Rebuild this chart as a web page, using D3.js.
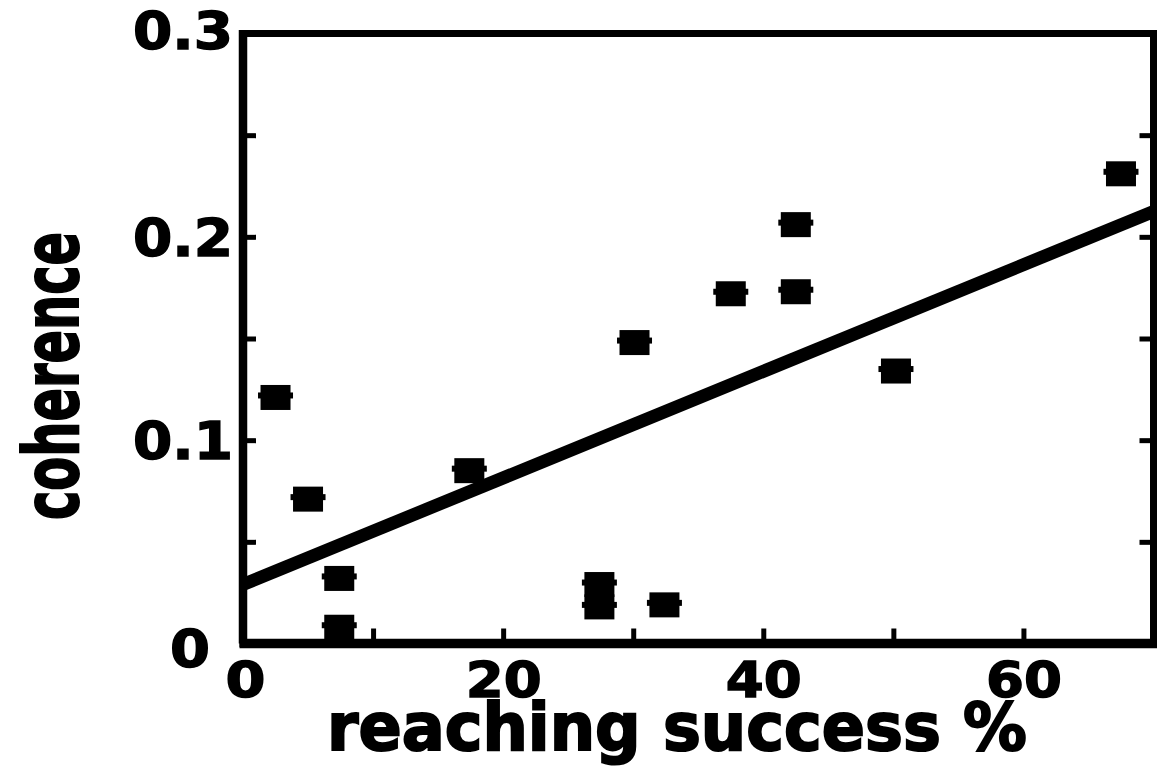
<!DOCTYPE html>
<html>
<head>
<meta charset="utf-8">
<script src="https://cdn.jsdelivr.net/npm/d3@7"></script>
<style>
html,body{margin:0;padding:0;background:#fff;}
svg{display:block;}
text{font-family:"DejaVu Sans",sans-serif;font-weight:bold;fill:#000;}
</style>
</head>
<body>
<svg id="chart" width="1157" height="777"></svg>
<script>
// ---- data ----
const reachX = [2.5, 5.0, 7.4, 7.4, 17.4, 27.4, 27.4, 32.4, 30.1, 37.5, 42.5, 42.5, 50.2, 67.5];
const coherenceY = [0.121, 0.071, 0.032, 0.008, 0.085, 0.029, 0.018, 0.019, 0.148, 0.172, 0.173, 0.206, 0.134, 0.231];
const fitX = [0, 70];
const fitY = [0.029, 0.2125];
const xTicks = [0, 10, 20, 30, 40, 50, 60];
const xTickLabels = ["0", "", "20", "", "40", "", "60"];
const yTicks = [0, 0.05, 0.1, 0.15, 0.2, 0.25, 0.3];
const yTickLabels = ["0", "", "0.1", "", "0.2", "", "0.3"];
const xTitle = "reaching success %";
const yTitle = "coherence";

// ---- layout ----
const svg = d3.select("#chart");
const L = 243, R = 1153.5, T = 33.5, B = 643.5;
const x = d3.scaleLinear().domain([0, 70]).range([L, R]);
const y = d3.scaleLinear().domain([0, 0.3]).range([B, T]);

// regression line
const pts = fitX.map((v, i) => [v, fitY[i]]);
svg.append("path")
  .attr("d", d3.line().x(d => x(d[0])).y(d => y(d[1]))(pts))
  .attr("stroke", "#000").attr("stroke-width", 13).attr("fill", "none");

// markers
const data = reachX.map((v, i) => ({x: v, y: coherenceY[i]}));
const g = svg.append("g");
const mk = g.selectAll("g.m").data(data).join("g").attr("class", "m")
  .attr("transform", d => `translate(${x(d.x)},${y(d.y)})`);
mk.append("rect").attr("x", -15).attr("y", -12.5).attr("width", 30).attr("height", 25).attr("fill", "#000");
mk.append("rect").attr("x", -17.5).attr("y", -5).attr("width", 35).attr("height", 6).attr("fill", "#000");

// axes (ticks inward)
const xAxis = svg.append("g").attr("transform", `translate(0,${B})`)
  .call(d3.axisBottom(x).tickValues(xTicks).tickSize(-15).tickPadding(0)
    .tickFormat((d, i) => xTickLabels[i]));
const yAxis = svg.append("g").attr("transform", `translate(${L},0)`)
  .call(d3.axisLeft(y).tickValues(yTicks).tickSize(-13).tickPadding(10)
    .tickFormat((d, i) => yTickLabels[i]));
const yAxisR = svg.append("g").attr("transform", `translate(${R},0)`)
  .call(d3.axisRight(y).tickValues(yTicks.slice(1, -1)).tickSize(-14).tickFormat(""));

[xAxis, yAxis, yAxisR].forEach(a => {
  a.select(".domain").remove();
  a.selectAll(".tick line").attr("stroke", "#000").attr("stroke-width", 5);
});

xAxis.selectAll(".tick text")
  .attr("y", 53).attr("dy", 0)
  .style("font-size", "50px").attr("font-family", null)
  .attr("stroke", "#000").attr("stroke-width", 1.4)
  .each(function(d, i) {
    const t = xTickLabels[i];
    if (t.length === 1) { d3.select(this).attr("textLength", 40).attr("lengthAdjust", "spacingAndGlyphs").attr("x", 2); }
    else if (t.length === 2) { d3.select(this).attr("textLength", 76).attr("lengthAdjust", "spacingAndGlyphs"); }
  });

yAxis.selectAll(".tick text")
  .attr("dy", "0.36em")
  .style("font-size", "52px").attr("font-family", null)
  .attr("stroke", "#000").attr("stroke-width", 1.4)
  .each(function(d, i) {
    const t = yTickLabels[i];
    const s = d3.select(this);
    if (t === "0") { s.attr("textLength", 40).attr("lengthAdjust", "spacingAndGlyphs").attr("x", -33).attr("dy", "0.44em"); }
    else if (t.length) { s.attr("textLength", 100).attr("lengthAdjust", "spacingAndGlyphs").attr("x", -10); }
    if (t === "0.3") s.attr("dy", "0.28em");
  });

// frame
svg.append("rect").attr("x", L).attr("y", T).attr("width", R - L).attr("height", B - T)
  .attr("fill", "none").attr("stroke", "#000").attr("stroke-width", 7);
svg.append("line").attr("x1", L - 3.5).attr("x2", R + 3.5).attr("y1", B).attr("y2", B)
  .attr("stroke", "#000").attr("stroke-width", 9.5);
svg.append("line").attr("x1", L).attr("x2", L).attr("y1", T - 3.5).attr("y2", B)
  .attr("stroke", "#000").attr("stroke-width", 8.5);

// titles
svg.append("text").text(xTitle)
  .attr("x", 327).attr("y", 750)
  .attr("textLength", 700).attr("lengthAdjust", "spacingAndGlyphs")
  .style("font-size", "66px").attr("stroke", "#000").attr("stroke-width", 2);

svg.append("text").text(yTitle)
  .attr("transform", "translate(78,520) rotate(-90)")
  .attr("textLength", 288).attr("lengthAdjust", "spacingAndGlyphs")
  .style("font-size", "76px").attr("stroke", "#000").attr("stroke-width", 2);
</script>
</body>
</html>
